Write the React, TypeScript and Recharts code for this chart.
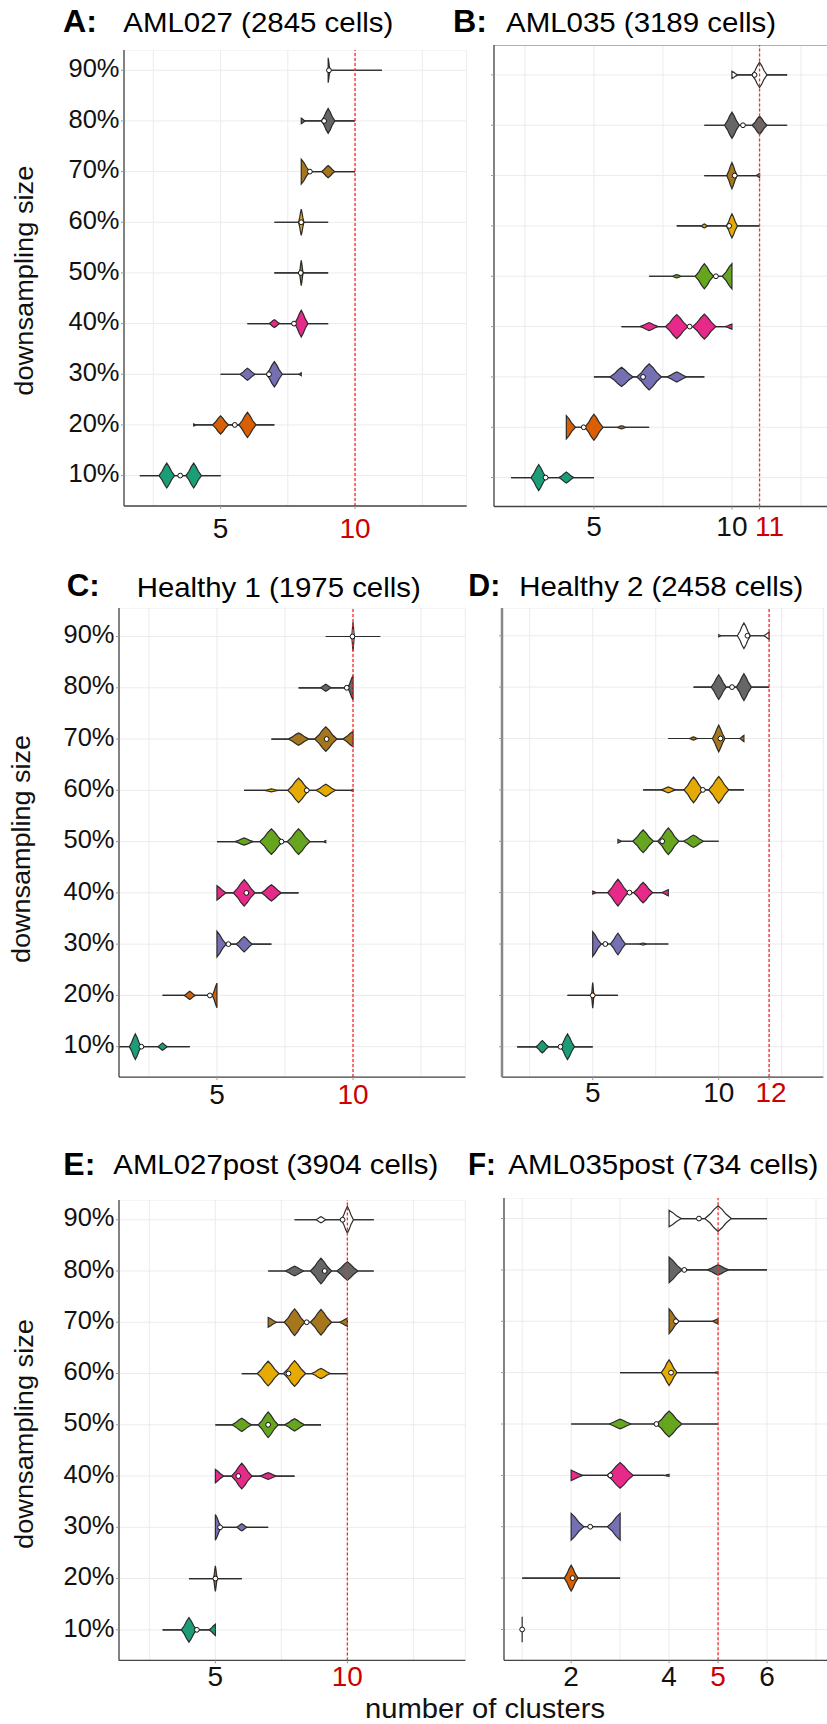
import React from "react";
import { ComposedChart, Area, Scatter, XAxis, YAxis, CartesianGrid, ReferenceLine } from "recharts";

const FONT = '"Liberation Sans", Arial, sans-serif';

const ROWS = ["10%", "20%", "30%", "40%", "50%", "60%", "70%", "80%", "90%"];
// Dark2, one colour per downsampling size (90% is left white)
const FILLS = ["#1B9E77", "#D95F02", "#7570B3", "#E7298A", "#66A61E", "#E6AB02", "#A6761D", "#666666", "#FFFFFF"];

// per row (10% -> 90%): [min, max] number of clusters, mean, and density bumps
// bump = [clusters, half height (in rows), half spread (in clusters)]
const A_RANGE = [[2, 5], [4, 7], [5, 8], [6, 9], [7, 9], [7, 9], [8, 10], [8, 10], [9, 11]];
const A_MEAN = [3.5, 5.53, 6.8, 7.73, 7.98, 8.0, 8.32, 8.85, 9.03];
const A_BUMPS = [
  [[3, 0.245, 0.29], [4, 0.245, 0.29]],
  [[4, 0.02, 0.1], [5, 0.18, 0.3], [6, 0.25, 0.32]],
  [[6, 0.12, 0.28], [7, 0.25, 0.3], [8, 0.03, 0.1]],
  [[7, 0.078, 0.2], [8, 0.265, 0.25]],
  [[8, 0.25, 0.07]],
  [[8, 0.26, 0.1]],
  [[8, 0.245, 0.33], [9, 0.12, 0.25]],
  [[8, 0.055, 0.15], [9, 0.245, 0.25]],
  [[9, 0.245, 0.07]],
];

const B_RANGE = [[2, 5], [4, 7], [5, 9], [6, 10], [7, 10], [8, 11], [9, 11], [9, 12], [10, 12]];
const B_MEAN = [3.25, 4.63, 6.78, 8.47, 9.42, 9.9, 10.1, 10.4, 10.82];
const B_BUMPS = [
  [[3, 0.26, 0.28], [4, 0.11, 0.27]],
  [[4, 0.23, 0.33], [5, 0.26, 0.33], [6, 0.03, 0.18]],
  [[6, 0.19, 0.42], [7, 0.26, 0.45], [8, 0.1, 0.36]],
  [[7, 0.08, 0.33], [8, 0.24, 0.41], [9, 0.25, 0.42], [10, 0.05, 0.25]],
  [[8, 0.03, 0.2], [9, 0.25, 0.33], [10, 0.25, 0.35]],
  [[9, 0.04, 0.13], [10, 0.24, 0.2]],
  [[10, 0.26, 0.19], [11, 0.04, 0.12]],
  [[10, 0.26, 0.27], [11, 0.18, 0.27]],
  [[10, 0.07, 0.22], [11, 0.25, 0.27]],
];

const C_RANGE = [[1, 4], [3, 5], [5, 7], [5, 8], [5, 9], [6, 10], [7, 10], [8, 10], [9, 11]];
const C_MEAN = [2.22, 4.74, 5.42, 6.08, 7.37, 8.3, 9.03, 9.77, 9.98];
const C_BUMPS = [
  [[2, 0.25, 0.22], [3, 0.07, 0.18]],
  [[4, 0.08, 0.21], [5, 0.24, 0.17]],
  [[5, 0.25, 0.34], [6, 0.15, 0.3]],
  [[5, 0.14, 0.34], [6, 0.26, 0.4], [7, 0.16, 0.37]],
  [[6, 0.07, 0.34], [7, 0.25, 0.43], [8, 0.25, 0.42], [9, 0.02, 0.1]],
  [[7, 0.03, 0.25], [8, 0.24, 0.4], [9, 0.12, 0.36], [10, 0.02, 0.1]],
  [[8, 0.12, 0.38], [9, 0.24, 0.41], [10, 0.15, 0.37]],
  [[9, 0.07, 0.2], [10, 0.24, 0.2]],
  [[10, 0.28, 0.05]],
];

const D_RANGE = [[2, 5], [4, 6], [5, 8], [5, 8], [6, 10], [7, 11], [8, 11], [9, 12], [10, 12]];
const D_MEAN = [3.72, 5.0, 5.5, 6.46, 7.76, 9.37, 10.07, 10.53, 11.14];
const D_BUMPS = [
  [[3, 0.12, 0.25], [4, 0.25, 0.28]],
  [[5, 0.25, 0.05]],
  [[5, 0.24, 0.34], [6, 0.21, 0.3], [7, 0.02, 0.16]],
  [[5, 0.03, 0.15], [6, 0.26, 0.41], [7, 0.2, 0.38], [8, 0.06, 0.26]],
  [[6, 0.035, 0.15], [7, 0.22, 0.41], [8, 0.26, 0.42], [9, 0.12, 0.4]],
  [[8, 0.056, 0.3], [9, 0.25, 0.38], [10, 0.26, 0.4]],
  [[9, 0.03, 0.18], [10, 0.26, 0.25], [11, 0.06, 0.17]],
  [[10, 0.24, 0.3], [11, 0.26, 0.3]],
  [[10, 0.02, 0.1], [11, 0.25, 0.26], [12, 0.07, 0.21]],
];

const E_RANGE = [[3, 5], [4, 6], [5, 7], [5, 8], [5, 9], [6, 10], [7, 10], [7, 11], [8, 11]];
const E_MEAN = [4.3, 5.0, 5.18, 5.87, 7.0, 7.77, 8.46, 9.14, 9.82];
const E_BUMPS = [
  [[4, 0.24, 0.29], [5, 0.11, 0.24]],
  [[5, 0.25, 0.07]],
  [[5, 0.25, 0.23], [6, 0.07, 0.2]],
  [[5, 0.13, 0.32], [6, 0.25, 0.39], [7, 0.065, 0.32]],
  [[6, 0.13, 0.37], [7, 0.25, 0.38], [8, 0.12, 0.38]],
  [[7, 0.24, 0.41], [8, 0.25, 0.42], [9, 0.1, 0.36]],
  [[7, 0.095, 0.32], [8, 0.26, 0.39], [9, 0.25, 0.4], [10, 0.08, 0.3]],
  [[8, 0.095, 0.36], [9, 0.25, 0.4], [10, 0.18, 0.4]],
  [[9, 0.06, 0.2], [10, 0.26, 0.23]],
];

const F_RANGE = [[1, 1], [1, 3], [2, 3], [2, 4], [2, 5], [3, 5], [4, 5], [4, 6], [4, 6]];
const F_MEAN = [1, 2.03, 2.39, 2.8, 3.74, 4.04, 4.14, 4.31, 4.61];
const F_BUMPS = [
  [[1, 0.25, 0]],
  [[2, 0.25, 0.14]],
  [[2, 0.26, 0.26], [3, 0.26, 0.26]],
  [[2, 0.1, 0.24], [3, 0.25, 0.27], [4, 0.02, 0.12]],
  [[3, 0.095, 0.23], [4, 0.25, 0.26]],
  [[4, 0.25, 0.16], [5, 0.015, 0.1]],
  [[4, 0.24, 0.2], [5, 0.05, 0.12]],
  [[4, 0.25, 0.27], [5, 0.1, 0.22]],
  [[4, 0.16, 0.25], [5, 0.25, 0.27]],
];

const GRID_WIDE = [2.5, 5, 7.5, 10, 12.5];
const GRID_F = [1, 2, 3, 4, 5, 6, 7];

const PANELS = [
  { range: A_RANGE, mean: A_MEAN, bumps: A_BUMPS, cut: 10, left: 124, top: 49.9, right: 466.7, bottom: 505.9,
    xDomain: [1.41, 14.15], yDomain: [0.4, 9.4], grid: GRID_WIDE, labels: [[5, "5", 0], [10, "10", 0]], labelDy: 32, yLabels: true },
  { range: B_RANGE, mean: B_MEAN, bumps: B_BUMPS, cut: 11, left: 494.3, top: 44.8, right: 846.8, bottom: 506.3,
    xDomain: [1.38, 14.15], yDomain: [0.426, 9.594], grid: [2.5, 5, 7.5, 10, 11, 12.5], labels: [[5, "5", 0], [10, "10", 0], [11, "11", 10]], labelDy: 29.5, yLabels: false, frameTop: true },
  { range: C_RANGE, mean: C_MEAN, bumps: C_BUMPS, cut: 10, left: 119.3, top: 607.9, right: 465.7, bottom: 1077,
    xDomain: [1.4, 14.13], yDomain: [0.407, 9.556], grid: GRID_WIDE, labels: [[5, "5", 0], [10, "10", 0]], labelDy: 27, yLabels: true },
  { range: D_RANGE, mean: D_MEAN, bumps: D_BUMPS, cut: 12, left: 502.3, top: 607.9, right: 823.6, bottom: 1077,
    xDomain: [1.4, 14.15], yDomain: [0.41, 9.54], grid: [2.5, 5, 7.5, 10, 12, 12.5], labels: [[5, "5", 0], [10, "10", 0], [12, "12", 2]], labelDy: 25, yLabels: false, greyAxis: true },
  { range: E_RANGE, mean: E_MEAN, bumps: E_BUMPS, cut: 10, left: 119.3, top: 1199.6, right: 465.7, bottom: 1660,
    xDomain: [1.35, 14.47], yDomain: [0.404, 9.385], grid: GRID_WIDE, labels: [[5, "5", 0], [10, "10", 0]], labelDy: 25.6, yLabels: true },
  { range: F_RANGE, mean: F_MEAN, bumps: F_BUMPS, cut: 5, left: 503.5, top: 1197.7, right: 840, bottom: 1660,
    xDomain: [0.629, 7.5], yDomain: [0.4, 9.4], grid: GRID_F, labels: [[2, "2", 0], [4, "4", 0], [5, "5", 0], [6, "6", 0]], labelDy: 25.6, yLabels: false },
];

const TITLES = [
  { t: "A:", x: 63, y: 32.3, b: true, len: 34 },
  { t: "AML027 (2845 cells)", x: 123.3, y: 31.8, len: 270 },
  { t: "B:", x: 453, y: 32.3, b: true, len: 34 },
  { t: "AML035 (3189 cells)", x: 506, y: 31.8, len: 270 },
  { t: "C:", x: 66.7, y: 595.5, b: true, len: 33 },
  { t: "Healthy 1 (1975 cells)", x: 136.7, y: 596.5, len: 284 },
  { t: "D:", x: 468.3, y: 595.5, b: true, len: 32 },
  { t: "Healthy 2 (2458 cells)", x: 519.3, y: 595.5, len: 284 },
  { t: "E:", x: 63.3, y: 1175, b: true, len: 32 },
  { t: "AML027post (3904 cells)", x: 113.3, y: 1173.5, len: 325 },
  { t: "F:", x: 468, y: 1175, b: true, len: 28 },
  { t: "AML035post (734 cells)", x: 508.3, y: 1173.5, len: 310 },
];

const Y_TITLES = [
  { x: 33, y: 280.7, len: 230 },
  { x: 29.5, y: 849, len: 228 },
  { x: 33, y: 1434, len: 230 },
];

// violin silhouette: trimmed at min/max, peaked bumps at each observed value
function violin(row: number, lo: number, hi: number, bumps: number[][]) {
  const pts: number[][] = [[lo, 0]];
  bumps.forEach(([v, h, s]) => {
    if (v > lo) pts.push([v - s, 0], [v - 0.6 * s, 0.35 * h], [v - 0.3 * s, 0.72 * h]);
    pts.push([v, h]);
    if (v < hi) pts.push([v + 0.3 * s, 0.72 * h], [v + 0.6 * s, 0.35 * h], [v + s, 0]);
  });
  pts.push([hi, 0]);
  return pts.map(([x, d]) => ({ x, r: [row - d, row + d] }));
}

function XTick(props: any) {
  const { x, y, payload, p } = props;
  const lab = p.labels.find((l: any) => l[0] === payload.value);
  if (!lab) return <g />;
  const red = lab[0] === p.cut;
  return (
    <g>
      <line x1={x} x2={x} y1={y} y2={y + 3} stroke="#999" strokeWidth={1} />
      <text x={x + lab[2]} y={y + p.labelDy} textAnchor="middle" fontSize={28} fontFamily={FONT} fill={red ? "#CC0000" : "#111"}>
        {lab[1]}
      </text>
    </g>
  );
}

function YTick(props: any) {
  const { x, y, payload, show } = props;
  return (
    <g>
      <line x1={x - 3} x2={x} y1={y} y2={y} stroke="#999" strokeWidth={1} />
      {show && (
        <text
          x={x - 4.5}
          y={y + 6.7}
          textAnchor="end"
          fontSize={25.7}
          fontFamily={FONT}
          textLength={51}
          lengthAdjust="spacingAndGlyphs"
          fill="#111"
        >
          {ROWS[payload.value - 1]}
        </text>
      )}
    </g>
  );
}

function Panel({ p }: { p: any }) {
  const yw = p.yLabels ? 110 : 20;
  const xh = 60;
  const pw = p.right - p.left;
  const ph = p.bottom - p.top;
  const means = p.mean.map((m: number, i: number) => ({ x: m, y: i + 1 }));
  return (
    <div style={{ position: "absolute", left: p.left - yw, top: p.top }}>
      <ComposedChart width={yw + pw} height={ph + xh} margin={{ top: 0, right: 0, bottom: 0, left: 0 }}>
        <CartesianGrid stroke="#EBEBEB" strokeWidth={1} />
        <XAxis
          type="number"
          dataKey="x"
          domain={p.xDomain}
          ticks={p.grid}
          interval={0}
          allowDataOverflow
          height={xh}
          tickSize={0}
          tickMargin={0}
          tickLine={false}
          axisLine={{ stroke: "#444", strokeWidth: 1.3 }}
          tick={(t: any) => <XTick {...t} p={p} />}
        />
        <YAxis
          type="number"
          dataKey="y"
          domain={p.yDomain}
          ticks={[1, 2, 3, 4, 5, 6, 7, 8, 9]}
          interval={0}
          allowDataOverflow
          width={yw}
          tickSize={0}
          tickMargin={0}
          tickLine={false}
          axisLine={p.greyAxis ? { stroke: "#888", strokeWidth: 2.5 } : { stroke: "#444", strokeWidth: 1.3 }}
          tick={(t: any) => <YTick {...t} show={p.yLabels} />}
        />
        {p.frameTop && <ReferenceLine y={p.yDomain[1]} stroke="#999" strokeWidth={1.5} />}
        {p.range.map((r: number[], i: number) => (
          <Area
            key={i}
            data={violin(i + 1, r[0], r[1], p.bumps[i])}
            dataKey="r"
            type="linear"
            fill={FILLS[i]}
            fillOpacity={1}
            stroke="#2b2b2b"
            strokeWidth={1.2}
            dot={false}
            activeDot={false}
            isAnimationActive={false}
          />
        ))}
        <ReferenceLine x={p.cut} stroke="#FF2A2A" strokeDasharray="3 2" strokeWidth={1.3} />
        <Scatter
          data={means}
          isAnimationActive={false}
          shape={(s: any) => <circle cx={s.cx} cy={s.cy} r={2.4} fill="#fff" stroke="#111" strokeWidth={1} />}
        />
      </ComposedChart>
    </div>
  );
}

export default function App() {
  return (
    <div style={{ position: "absolute", left: 0, top: 0, width: 827, height: 1724, overflow: "hidden", background: "#fff", fontFamily: FONT }}>
      {PANELS.map((p, i) => (
        <Panel key={i} p={p} />
      ))}
      <svg width={827} height={1724} style={{ position: "absolute", left: 0, top: 0, pointerEvents: "none" }}>
        {TITLES.map((t, i) => (
          <text
            key={i}
            x={t.x}
            y={t.y}
            fontFamily={FONT}
            fontSize={t.b ? 32 : 28}
            fontWeight={t.b ? 700 : 400}
            textLength={t.len}
            lengthAdjust="spacingAndGlyphs"
            fill="#000"
          >
            {t.t}
          </text>
        ))}
        {Y_TITLES.map((t, i) => (
          <text
            key={i}
            x={t.x}
            y={t.y}
            transform={`rotate(-90 ${t.x} ${t.y})`}
            textAnchor="middle"
            fontFamily={FONT}
            fontSize={26}
            textLength={t.len}
            lengthAdjust="spacingAndGlyphs"
            fill="#111"
          >
            downsampling size
          </text>
        ))}
        <text x={365} y={1718} fontFamily={FONT} fontSize={28} textLength={240} lengthAdjust="spacingAndGlyphs" fill="#111">
          number of clusters
        </text>
      </svg>
    </div>
  );
}
